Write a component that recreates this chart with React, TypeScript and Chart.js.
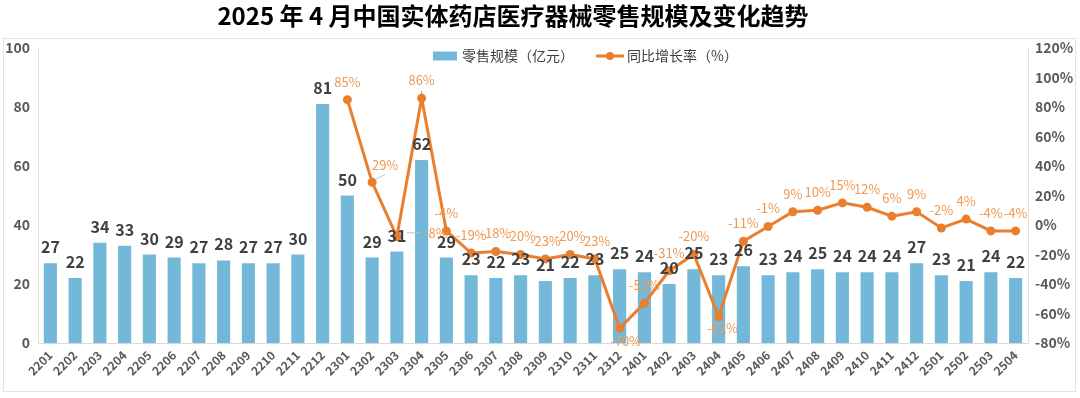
import React, { useEffect, useRef } from "react";
import { Chart, registerables } from "chart.js";

Chart.register(...registerables);

const TITLE = "2025 年 4 月中国实体药店医疗器械零售规模及变化趋势";
const SERIES_BAR = "零售规模（亿元）";
const SERIES_LINE = "同比增长率（%）";

const months = [
  "2201", "2202", "2203", "2204", "2205", "2206", "2207", "2208", "2209", "2210", "2211", "2212",
  "2301", "2302", "2303", "2304", "2305", "2306", "2307", "2308", "2309", "2310", "2311", "2312",
  "2401", "2402", "2403", "2404", "2405", "2406", "2407", "2408", "2409", "2410", "2411", "2412",
  "2501", "2502", "2503", "2504",
];

const retailScale = [
  27, 22, 34, 33, 30, 29, 27, 28, 27, 27, 30, 81,
  50, 29, 31, 62, 29, 23, 22, 23, 21, 22, 23, 25,
  24, 20, 25, 23, 26, 23, 24, 25, 24, 24, 24, 27,
  23, 21, 24, 22,
];

const yoyGrowth: (number | null)[] = [
  null, null, null, null, null, null, null, null, null, null, null, null,
  85, 29, -8, 86, -4, -19, -18, -20, -23, -20, -23, -70,
  -53, -31, -20, -62, -11, -1, 9, 10, 15, 12, 6, 9,
  -2, 4, -4, -4,
];

const leftTicks = { min: 0, max: 100, step: 20 };
const rightTicks = { min: -80, max: 120, step: 20 };

const FONT = '"Noto Sans CJK SC", "Microsoft YaHei", sans-serif';
const BAR_COLOR = "#74B8D9";
const LINE_COLOR = "#E97F2E";
const LINE_LABEL_COLOR = "#EE9A52";
const TEXT_DARK = "#404040";
const AXIS_TEXT = "#595959";

// label placement tweaks for the growth-rate labels (by point index)
const lineLabelOffsets: Record<number, { dx: number; dy: number; leader?: boolean }> = {
  13: { dx: 13, dy: -17, leader: true },
  14: { dx: 39, dy: -4, leader: true },
  23: { dx: 6, dy: 13 },
  27: { dx: 4, dy: 12 },
};

const decorPlugin = {
  id: "decor",
  beforeDraw(chart: any) {
    const { ctx } = chart;
    ctx.save();
    ctx.fillStyle = "#ffffff";
    ctx.fillRect(0, 0, chart.width, chart.height);
    ctx.strokeStyle = "#e3e3e3";
    ctx.lineWidth = 1;
    ctx.strokeRect(3.5, 38.5, 1072, 353);
    // title
    ctx.fillStyle = "#000000";
    ctx.font = `bold 24px ${FONT}`;
    ctx.textAlign = "center";
    ctx.textBaseline = "middle";
    ctx.fillText(TITLE, 513, 16);
    ctx.restore();
  },
  afterDraw(chart: any) {
    const { ctx } = chart;
    ctx.save();
    ctx.font = `14px ${FONT}`;
    ctx.textBaseline = "middle";
    ctx.textAlign = "left";
    const cy = 56;
    let x = 433;
    ctx.fillStyle = BAR_COLOR;
    ctx.fillRect(x, cy - 4.5, 24, 9);
    ctx.fillStyle = TEXT_DARK;
    ctx.fillText(chart.data.datasets[0].label, x + 29, cy);
    x = x + 29 + ctx.measureText(chart.data.datasets[0].label).width + 22;
    ctx.strokeStyle = LINE_COLOR;
    ctx.lineWidth = 3;
    ctx.beginPath();
    ctx.moveTo(x, cy);
    ctx.lineTo(x + 28, cy);
    ctx.stroke();
    ctx.fillStyle = LINE_COLOR;
    ctx.beginPath();
    ctx.arc(x + 14, cy, 4, 0, Math.PI * 2);
    ctx.fill();
    ctx.fillStyle = TEXT_DARK;
    ctx.fillText(chart.data.datasets[1].label, x + 31, cy);
    ctx.restore();
  },
};

const labelPlugin = {
  id: "valueLabels",
  afterDatasetsDraw(chart: any) {
    const { ctx } = chart;
    ctx.save();
    ctx.textAlign = "center";
    ctx.textBaseline = "middle";
    // bar labels
    const barMeta = chart.getDatasetMeta(0);
    ctx.font = `bold 16px ${FONT}`;
    ctx.fillStyle = TEXT_DARK;
    barMeta.data.forEach((el: any, i: number) => {
      const v = chart.data.datasets[0].data[i];
      if (v == null) return;
      ctx.fillText(String(v), el.x, el.y - 16);
    });
    // line labels
    const lineMeta = chart.getDatasetMeta(1);
    ctx.font = `13px ${FONT}`;
    lineMeta.data.forEach((el: any, i: number) => {
      const v = chart.data.datasets[1].data[i];
      if (v == null) return;
      const o = lineLabelOffsets[i] || { dx: 0, dy: -18 };
      if (o.leader) {
        ctx.strokeStyle = "#bfbfbf";
        ctx.lineWidth = 1;
        ctx.beginPath();
        if (o.dx > 30) {
          ctx.moveTo(el.x + 10, el.y + o.dy);
          ctx.lineTo(el.x + o.dx - 15, el.y + o.dy);
        } else {
          ctx.moveTo(el.x + 4, el.y - 3);
          ctx.lineTo(el.x + 13, el.y - 8);
        }
        ctx.stroke();
      }
      ctx.fillStyle = LINE_LABEL_COLOR;
      ctx.fillText(`${v}%`, el.x + o.dx, el.y + o.dy);
    });
    ctx.restore();
  },
};

export default function App() {
  const canvasRef = useRef<HTMLCanvasElement | null>(null);

  useEffect(() => {
    document.body.style.margin = "0";
    const canvas = canvasRef.current;
    if (!canvas) return;
    const chart = new Chart(canvas, {
      type: "bar",
      data: {
        labels: months,
        datasets: [
          {
            type: "bar",
            label: SERIES_BAR,
            data: retailScale,
            backgroundColor: BAR_COLOR,
            yAxisID: "y",
            barPercentage: 0.53,
            categoryPercentage: 1,
            order: 2,
          },
          {
            type: "line",
            label: SERIES_LINE,
            data: yoyGrowth,
            borderColor: LINE_COLOR,
            backgroundColor: LINE_COLOR,
            borderWidth: 3,
            pointRadius: 4.5,
            pointBackgroundColor: LINE_COLOR,
            pointBorderWidth: 0,
            yAxisID: "y1",
            order: 1,
            spanGaps: false,
          },
        ],
      } as any,
      options: {
        responsive: false,
        animation: false,
        devicePixelRatio: 1,
        layout: { padding: { top: 48, left: 0, right: 0, bottom: 0 } },
        plugins: {
          legend: { display: false },
          title: { display: false },
          tooltip: { enabled: false },
        },
        scales: {
          x: {
            grid: { display: false, drawTicks: false },
            border: { display: true, color: "#d9d9d9" },
            ticks: {
              autoSkip: false,
              minRotation: 45,
              maxRotation: 45,
              padding: 5,
              color: AXIS_TEXT,
              font: { family: FONT, size: 12, weight: "bold" },
            },
            afterFit(s: any) {
              s.height = 55;
            },
          },
          y: {
            position: "left",
            min: leftTicks.min,
            max: leftTicks.max,
            grid: { display: false, drawTicks: false },
            border: { display: true, color: "#e3e3e3" },
            ticks: {
              stepSize: leftTicks.step,
              padding: 8,
              color: AXIS_TEXT,
              font: { family: FONT, size: 14, weight: "bold" },
            },
            afterFit(s: any) {
              s.width = 38;
            },
          },
          y1: {
            position: "right",
            min: rightTicks.min,
            max: rightTicks.max,
            grid: { display: false, drawTicks: false },
            border: { display: true, color: "#e3e3e3" },
            ticks: {
              stepSize: rightTicks.step,
              padding: 7,
              color: AXIS_TEXT,
              font: { family: FONT, size: 14, weight: "bold" },
              callback: (v: any) => `${v}%`,
            },
            afterFit(s: any) {
              s.width = 52;
            },
          },
        },
      } as any,
      plugins: [decorPlugin, labelPlugin],
    });
    return () => chart.destroy();
  }, []);

  return (
    <div style={{ width: 1080, height: 398, background: "#fff" }}>
      <canvas ref={canvasRef} width={1080} height={398} style={{ display: "block", width: 1080, height: 398 }} />
    </div>
  );
}
